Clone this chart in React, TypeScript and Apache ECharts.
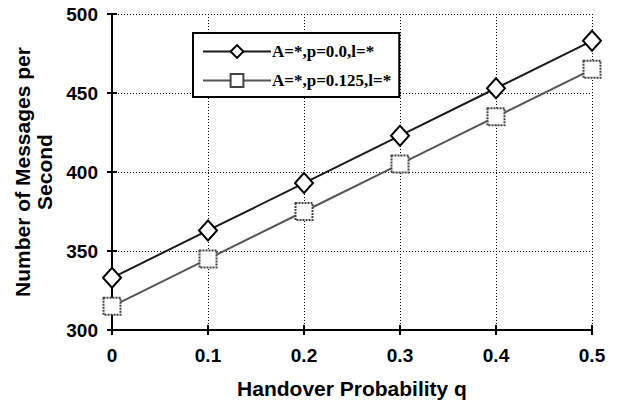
import React, { useEffect, useRef } from "react";
import * as echarts from "echarts";

const qValues = ["0", "0.1", "0.2", "0.3", "0.4", "0.5"];
const qNumbers = [0, 0.1, 0.2, 0.3, 0.4, 0.5];
const seriesP0 = [333, 363, 393, 423, 453, 483];
const seriesP125 = [315, 345, 375, 405, 435, 465];
const seriesNames = ["A=*,p=0.0,l=*", "A=*,p=0.125,l=*"];

const sans = "Liberation Sans, Arial, sans-serif";
const serif = "Liberation Serif, Times New Roman, serif";

export default function App() {
  const ref = useRef<HTMLDivElement>(null);

  useEffect(() => {
    if (!ref.current) return;
    const chart = echarts.init(ref.current, null, { renderer: "svg" });

    const gridLine = { show: true, lineStyle: { color: "#000", type: [1, 2] as any, width: 1 } };
    const axisLine = { show: true, onZero: false, lineStyle: { color: "#000", width: 2 } };

    chart.setOption({
      animation: false,
      backgroundColor: "#fff",
      grid: { left: 112, right: 36, top: 14, bottom: 79 },
      legend: {
        orient: "vertical",
        left: 193,
        top: 33,
        padding: [10, 8, 8, 9],
        itemGap: 12,
        itemWidth: 68,
        itemHeight: 16,
        borderColor: "#000",
        borderWidth: 2,
        backgroundColor: "#fff",
        textStyle: { fontFamily: serif, fontWeight: "bold", fontSize: 17, color: "#000", padding: [0, 0, 0, -4] },
        data: seriesNames,
      },
      xAxis: [
        {
          type: "value",
          min: 0,
          max: 0.5,
          interval: 0.1,
          name: "Handover Probability q",
          nameLocation: "middle",
          nameGap: 48,
          nameTextStyle: { fontFamily: sans, fontWeight: "bold", fontSize: 21, color: "#000" },
          axisLine,
          axisTick: { show: true, length: 5, lineStyle: { color: "#000", width: 2 } },
          axisLabel: {
            margin: 16,
            fontFamily: sans,
            fontWeight: "bold",
            fontSize: 19,
            color: "#000",
            formatter: (v: number) => qValues[qNumbers.findIndex((n) => Math.abs(n - v) < 1e-6)] ?? String(v),
          },
          splitLine: gridLine,
        },
        {
          type: "value",
          min: 0,
          max: 0.5,
          interval: 0.1,
          position: "bottom",
          axisLine: { show: false },
          axisTick: { show: true, inside: true, length: 5, lineStyle: { color: "#000", width: 2 } },
          axisLabel: { show: false },
          splitLine: { show: false },
        },
      ],
      yAxis: [
        {
          type: "value",
          min: 300,
          max: 500,
          interval: 50,
          name: "Number of Messages per\nSecond",
          nameLocation: "middle",
          nameGap: 57,
          nameTextStyle: { fontFamily: sans, fontWeight: "bold", fontSize: 21, color: "#000", lineHeight: 22 },
          axisLine,
          axisTick: { show: true, length: 5, lineStyle: { color: "#000", width: 2 } },
          axisLabel: { margin: 14, fontFamily: sans, fontWeight: "bold", fontSize: 19, color: "#000" },
          splitLine: gridLine,
        },
        {
          type: "value",
          min: 300,
          max: 500,
          interval: 50,
          position: "left",
          axisLine: { show: false },
          axisTick: { show: true, inside: true, length: 5, lineStyle: { color: "#000", width: 2 } },
          axisLabel: { show: false },
          splitLine: { show: false },
        },
      ],
      series: [
        {
          name: seriesNames[0],
          type: "line",
          data: qNumbers.map((q, i) => [q, seriesP0[i]]),
          symbol: "diamond",
          symbolSize: [18, 20],
          lineStyle: { color: "#1a1a1a", width: 2 },
          itemStyle: { color: "#fff", borderColor: "#000", borderWidth: 2 },
          z: 3,
        },
        {
          name: seriesNames[1],
          type: "line",
          data: qNumbers.map((q, i) => [q, seriesP125[i]]),
          symbol: "rect",
          symbolSize: 17,
          lineStyle: { color: "#555", width: 2 },
          itemStyle: { color: "#fff", borderColor: "#444", borderWidth: 2, borderType: [2, 1] as any },
          z: 2,
        },
      ],
    });

    return () => chart.dispose();
  }, []);

  return (
    <div
      ref={ref}
      style={{ position: "fixed", left: 0, top: 0, width: 628, height: 409, background: "#fff" }}
    />
  );
}
